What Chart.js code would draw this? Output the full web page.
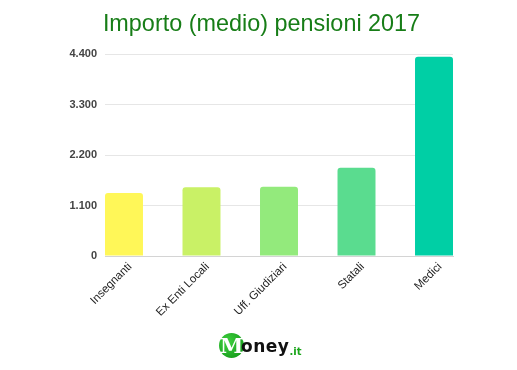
<!DOCTYPE html>
<html>
<head>
<meta charset="utf-8">
<script src="https://cdn.jsdelivr.net/npm/chart.js@4"></script>
<style>
  html, body { margin: 0; padding: 0; background: #fff; }
  #wrap { position: relative; width: 517px; height: 370px; overflow: hidden; }
  #title { position: absolute; left: 3px; top: 7px; width: 517px; text-align: center;
    font-family: "Liberation Sans", Arial, sans-serif; font-size: 23.4px; color: #177d17; line-height: 32px; }
  #logo { position: absolute; left: 219px; top: 333px; height: 26px; font-family: "DejaVu Sans", sans-serif; white-space: nowrap; }
  #logo .m { display: inline-block; width: 25px; height: 25px; border-radius: 50%;
    background: radial-gradient(circle at 35% 35%, #3fd13f, #0c8f12); color: #fff; text-align: center;
    font-family: "DejaVu Serif", serif; font-weight: bold; font-size: 21px; line-height: 25px; vertical-align: middle; }
  #logo .o { font-weight: bold; font-size: 17px; color: #111; vertical-align: middle; margin-left: -3px; letter-spacing: 0.5px; }
  #logo .it { font-weight: bold; font-size: 10px; color: #1aa51a; vertical-align: -5px; }
</style>
</head>
<body>
<div id="wrap">
  <canvas id="c" width="517" height="370"></canvas>
  <div id="title">Importo (medio) pensioni 2017</div>
  <div id="logo"><span class="m">M</span><span class="o">oney</span><span class="it">.it</span></div>
</div>
<script>
const categories = ["Insegnanti", "Ex Enti Locali", "Uff. Giudiziari", "Statali", "Medici"];
const pensionValues = [1370, 1500, 1510, 1920, 4340];
const yTickValues = [0, 1100, 2200, 3300, 4400];
const barColors = ["#fff758", "#c9f166", "#93ea7c", "#5adc8f", "#00cfa5"];

const fmt = v => v.toLocaleString('it-IT');

new Chart(document.getElementById('c'), {
  type: 'bar',
  data: {
    datasets: [{
      data: pensionValues.map((v, i) => ({ x: i, y: v })),
      backgroundColor: barColors,
      borderRadius: { topLeft: 3, topRight: 3, bottomLeft: 0, bottomRight: 0 },
      borderSkipped: false,
      barPercentage: 0.49,
      categoryPercentage: 1
    }]
  },
  options: {
    responsive: false,
    animation: false,
    layout: { padding: { top: 54, right: 64, bottom: 44, left: 0 } },
    plugins: { legend: { display: false }, tooltip: { enabled: false }, title: { display: false } },
    scales: {
      x: {
        type: 'linear',
        min: -0.245,
        max: 4.245,
        offset: false,
        afterBuildTicks: axis => { axis.ticks = categories.map((_, i) => ({ value: i })); },
        afterFit: scale => { scale.height = 70; },
        grid: { display: false, drawTicks: false },
        border: { display: true, color: '#d4d4d4', width: 1 },
        ticks: {
          autoSkip: false,
          minRotation: 45, maxRotation: 45,
          padding: 4,
          labelOffset: 6,
          color: '#222',
          font: { family: '"Liberation Sans", Arial, sans-serif', size: 11.5 },
          callback: v => categories[v]
        }
      },
      y: {
        min: 0, max: 4400,
        afterBuildTicks: axis => { axis.ticks = yTickValues.map(v => ({ value: v })); },
        afterFit: scale => { scale.width = 105; },
        grid: { color: '#e6e6e6', drawTicks: false },
        border: { display: false },
        ticks: {
          padding: 8,
          color: '#444',
          font: { family: '"Liberation Sans", Arial, sans-serif', size: 11, weight: 'bold' },
          callback: v => fmt(v)
        }
      }
    }
  }
});
</script>
</body>
</html>
